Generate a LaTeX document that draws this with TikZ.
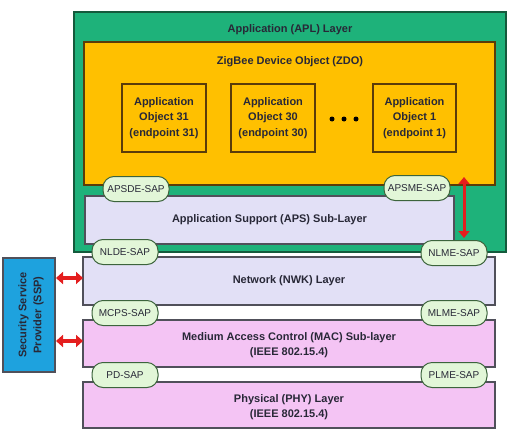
\documentclass[tikz,border=0pt]{standalone}
\usepackage{fontspec}
\setmainfont{Liberation Sans}
\usetikzlibrary{arrows.meta}
\definecolor{aplgreen}{RGB}{30,178,122}
\definecolor{aplline}{RGB}{20,90,60}
\definecolor{zdoorange}{RGB}{255,192,0}
\definecolor{zdoline}{RGB}{90,60,10}
\definecolor{apsfill}{RGB}{226,224,246}
\definecolor{macfill}{RGB}{244,196,244}
\definecolor{boxline}{RGB}{80,80,90}
\definecolor{sspblue}{RGB}{30,162,222}
\definecolor{sapfill}{RGB}{226,246,216}
\definecolor{sapline}{RGB}{60,100,60}
\definecolor{txt}{RGB}{40,40,55}
\definecolor{arrowred}{RGB}{228,30,30}
\begin{document}
\begin{tikzpicture}[x=1pt,y=-1pt,
  every node/.style={text=txt},
  layer/.style={draw=boxline, line width=1.2pt, inner sep=0pt, outer sep=0pt, anchor=north west},
  title/.style={font=\fontsize{11}{15}\selectfont\bfseries, align=center, inner sep=0pt},
  appobj/.style={layer, draw=zdoline, fill=zdoorange, minimum width=84pt, minimum height=68pt,
                 font=\fontsize{11}{15.5}\selectfont\bfseries, align=center},
  sap/.style={draw=sapline, fill=sapfill, line width=1pt, rounded corners=11pt,
              minimum width=66pt, minimum height=25pt, inner sep=0pt,
              font=\fontsize{10}{12}\selectfont},
  duplex/.style={draw=arrowred, line width=3.2pt,
                 {Triangle[length=7pt,width=12pt]}-{Triangle[length=7pt,width=12pt]}},
  duplexv/.style={draw=arrowred, line width=3pt,
                 {Triangle[length=7pt,width=11pt]}-{Triangle[length=7pt,width=11pt]}},
  dot/.style={circle, fill=black, inner sep=0pt, minimum size=5pt}
]
\useasboundingbox (0,0) rectangle (510,436);

% Application layer and ZigBee device object
\node[layer, draw=aplline, fill=aplgreen, minimum width=432pt, minimum height=240pt] (apl) at (74,12) {};
\node[title] (apltitle) at (290,30) {Application (APL) Layer};
\node[layer, draw=zdoline, fill=zdoorange, minimum width=411pt, minimum height=143pt] (zdo) at (84,42) {};
\node[title] (zdotitle) at (290,62) {ZigBee Device Object (ZDO)};

% application objects
\node[appobj] (obj31) at (122,84) {Application\\Object 31\\(endpoint 31)};
\node[appobj] (obj30) at (231,84) {Application\\Object 30\\(endpoint 30)};
\node[appobj, minimum width=83pt] (obj1) at (373,84) {Application\\Object 1\\(endpoint 1)};
\node[dot] (dota) at (332,119) {};
\node[dot] (dotb) at (344,119) {};
\node[dot] (dotc) at (356,119) {};

% stack layers
\node[layer, fill=apsfill, minimum width=369pt, minimum height=48pt] (aps) at (85,196) {};
\node[title] (apstitle) at (aps.center) {Application Support (APS) Sub-Layer};
\node[layer, fill=apsfill, minimum width=412pt, minimum height=48pt] (nwk) at (83,257) {};
\node[title] (nwktitle) at (nwk.center) {Network (NWK) Layer};
\node[layer, fill=macfill, minimum width=412pt, minimum height=47pt] (mac) at (83,320) {};
\node[title] (mactitle) at ([yshift=-2pt]mac.center) {Medium Access Control (MAC) Sub-layer\\(IEEE 802.15.4)};
\node[layer, fill=macfill, minimum width=412pt, minimum height=46pt] (phy) at (83,382) {};
\node[title] (phytitle) at ([yshift=-2pt]phy.center) {Physical (PHY) Layer\\(IEEE 802.15.4)};

% security service provider
\node[layer, draw=boxline, fill=sspblue, minimum width=52pt, minimum height=114pt] (ssp) at (3,258) {};
\node[title, rotate=90, text=txt] (ssptitle) at ([xshift=2pt]ssp.center) {Security Service\\Provider (SSP)};

% service access points
\node[sap] (apsde) at (136,189) {APSDE-SAP};
\node[sap] (apsme) at (417,188) {APSME-SAP};
\node[sap] (nlde) at (125,252) {NLDE-SAP};
\node[sap] (nlme) at (454,253) {NLME-SAP};
\node[sap] (mcps) at (125,313) {MCPS-SAP};
\node[sap] (mlme) at (454,313) {MLME-SAP};
\node[sap] (pd) at (125,375) {PD-SAP};
\node[sap] (plme) at (454,375) {PLME-SAP};

% management link between APS and NWK
\coordinate (mgmttop) at (464,177);
\coordinate (mgmtbot) at (464,238);
\draw[duplexv] (mgmttop) -- (mgmtbot);

% security links
\draw[duplex] ([xshift=1pt]ssp.east |- 0,278) coordinate (sspnwk) -- (nwk.west |- sspnwk);
\draw[duplex] ([xshift=1pt]ssp.east |- 0,341) coordinate (sspmac) -- (mac.west |- sspmac);
\end{tikzpicture}
\end{document}
